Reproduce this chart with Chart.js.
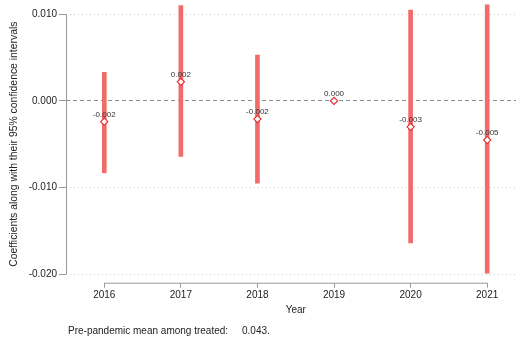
<!DOCTYPE html>
<html lang="en">
<head>
    <meta charset="UTF-8">
    <title>Coefficients by year</title>
    <style>
        body {
            margin: 0;
            background-color: #fff;
        }

        canvas {
            display: block;
        }
    </style>
</head>
<body>
    <canvas id="coefChart" width="521" height="341"></canvas>

    <script src="https://cdn.jsdelivr.net/npm/chart.js"></script>
    <script>
        // values
        const years = [2016, 2017, 2018, 2019, 2020, 2021];
        const coef = [-0.0024, 0.0022, -0.0021, 0.0, -0.0030, -0.00452];
        const ciLow = [-0.0083, -0.0064, -0.0095, null, -0.0164, -0.0199];
        const ciHigh = [0.0033, 0.0110, 0.0053, null, 0.0105, 0.0111];
        const yTicks = [-0.020, -0.010, 0.000, 0.010];

        const FONT = "'Liberation Sans', Arial, Helvetica, sans-serif";
        const AXIS_GRAY = '#9a9a9a';

        // axis lines only span the tick range, like the original
        const axisLines = {
            id: 'axisLines',
            afterDraw(chart) {
                const ctx = chart.ctx;
                const x = chart.scales.x;
                const y = chart.scales.y;
                const area = chart.chartArea;
                ctx.save();
                ctx.strokeStyle = AXIS_GRAY;
                ctx.lineWidth = 1;
                ctx.beginPath();
                ctx.moveTo(area.left + 0.5, y.getPixelForValue(yTicks[yTicks.length - 1]));
                ctx.lineTo(area.left + 0.5, y.getPixelForValue(yTicks[0]));
                ctx.moveTo(x.getPixelForValue(years[0]), area.bottom + 0.5);
                ctx.lineTo(x.getPixelForValue(years[years.length - 1]), area.bottom + 0.5);
                ctx.stroke();
                ctx.restore();
            }
        };

        const pointLabels = {
            id: 'pointLabels',
            afterDatasetsDraw(chart) {
                const ctx = chart.ctx;
                const meta = chart.getDatasetMeta(1);
                ctx.save();
                ctx.font = '8px ' + FONT;
                ctx.fillStyle = '#333';
                ctx.textAlign = 'center';
                ctx.textBaseline = 'middle';
                meta.data.forEach((pt, i) => {
                    ctx.fillText(coef[i].toFixed(3), pt.x, pt.y - 7);
                });
                ctx.restore();
            }
        };

        const texts = {
            id: 'texts',
            afterDraw(chart) {
                const ctx = chart.ctx;
                const x = chart.scales.x;
                const y = chart.scales.y;
                ctx.save();
                ctx.font = '10px ' + FONT;
                ctx.fillStyle = '#222';
                ctx.textBaseline = 'middle';

                ctx.textAlign = 'center';
                const midX = (x.getPixelForValue(years[0]) + x.getPixelForValue(years[years.length - 1])) / 2;
                ctx.fillText('Year', midX, 310);

                ctx.textAlign = 'left';
                ctx.fillText('Pre-pandemic mean among treated:', 68, 331);
                ctx.fillText('0.043.', 242, 331);

                const midY = (y.getPixelForValue(yTicks[0]) + y.getPixelForValue(yTicks[yTicks.length - 1])) / 2;
                ctx.translate(14, midY);
                ctx.rotate(-Math.PI / 2);
                ctx.textAlign = 'center';
                ctx.font = '10.4px ' + FONT;
                ctx.fillText('Coefficients along with their 95% confidence intervals', 0, 0);
                ctx.restore();
            }
        };

        const ctx = document.getElementById('coefChart').getContext('2d');
        new Chart(ctx, {
            type: 'bar',
            data: {
                datasets: [
                    {
                        type: 'bar',
                        data: years.map((yr, i) => ({ x: yr, y: ciLow[i] === null ? null : [ciLow[i], ciHigh[i]] })),
                        backgroundColor: '#f26b6b',
                        borderWidth: 0,
                        barThickness: 4,
                        grouped: false,
                        clip: false,
                        order: 2
                    },
                    {
                        type: 'scatter',
                        data: years.map((yr, i) => ({ x: yr, y: coef[i] })),
                        pointStyle: 'rectRot',
                        pointRadius: 3.6,
                        pointBackgroundColor: '#fff',
                        pointBorderColor: '#e8262b',
                        pointBorderWidth: 1.1,
                        order: 1
                    }
                ]
            },
            options: {
                responsive: false,
                animation: false,
                devicePixelRatio: 1,
                layout: { padding: 0 },
                plugins: {
                    legend: { display: false },
                    tooltip: { enabled: false }
                },
                scales: {
                    x: {
                        type: 'linear',
                        min: 2015.5,
                        max: 2021.375,
                        offset: false,
                        afterFit(scale) { scale.height = 58.3; },
                        afterBuildTicks(scale) { scale.ticks = years.map(v => ({ value: v })); },
                        ticks: {
                            color: '#222',
                            padding: 2,
                            font: { family: FONT, size: 10 },
                            callback: v => String(v)
                        },
                        grid: {
                            offset: false,
                            drawOnChartArea: false,
                            tickLength: 5,
                            tickColor: AXIS_GRAY
                        },
                        border: { display: false }
                    },
                    y: {
                        min: -0.0210,
                        max: 0.01073,
                        afterFit(scale) { scale.width = 66; },
                        afterBuildTicks(scale) { scale.ticks = yTicks.map(v => ({ value: v })); },
                        ticks: {
                            color: '#222',
                            padding: 2,
                            font: { family: FONT, size: 10 },
                            callback: v => v.toFixed(3)
                        },
                        grid: {
                            color: c => (c.tick && Math.abs(c.tick.value) < 1e-9) ? '#8c8c8c' : '#cfcfcf',
                            lineWidth: 1,
                            tickLength: 7,
                            tickColor: AXIS_GRAY
                        },
                        border: {
                            display: false,
                            dash: c => (c.tick && Math.abs(c.tick.value) < 1e-9) ? [4, 3] : [1, 3]
                        }
                    }
                }
            },
            plugins: [axisLines, pointLabels, texts]
        });
    </script>
</body>
</html>
